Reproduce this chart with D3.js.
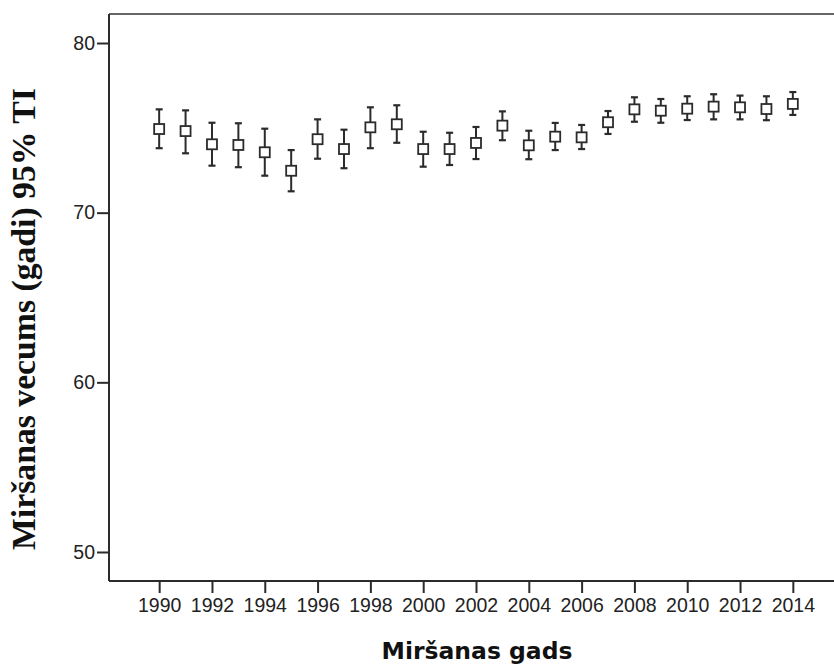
<!DOCTYPE html>
<html>
<head>
<meta charset="utf-8">
<script src="https://cdn.jsdelivr.net/npm/d3@7"></script>
<style>
  html, body { margin: 0; padding: 0; background: #fff; }
  svg { display: block; }
</style>
</head>
<body>
<svg id="chart" width="834" height="666"></svg>
<script>
// Mean age at death by year of death, with 95% confidence intervals
const years = [1990, 1991, 1992, 1993, 1994, 1995, 1996, 1997, 1998, 1999, 2000, 2001,
               2002, 2003, 2004, 2005, 2006, 2007, 2008, 2009, 2010, 2011, 2012, 2013, 2014];
const means = [74.93, 74.81, 74.03, 73.99, 73.56, 72.47, 74.33, 73.75, 75.03, 75.21, 73.75, 73.75,
               74.11, 75.13, 73.97, 74.48, 74.44, 75.33, 76.09, 76.01, 76.13, 76.25, 76.21, 76.11, 76.41];
const lower = [73.80, 73.50, 72.77, 72.68, 72.18, 71.26, 73.18, 72.62, 73.80, 74.12, 72.71, 72.81,
               73.16, 74.27, 73.15, 73.69, 73.75, 74.64, 75.36, 75.30, 75.46, 75.50, 75.50, 75.45, 75.76];
const upper = [76.09, 76.03, 75.30, 75.27, 74.95, 73.69, 75.50, 74.89, 76.21, 76.33, 74.77, 74.71,
               75.05, 75.97, 74.83, 75.29, 75.17, 75.99, 76.80, 76.70, 76.86, 76.98, 76.90, 76.86, 77.11];
const xTicks = [1990, 1992, 1994, 1996, 1998, 2000, 2002, 2004, 2006, 2008, 2010, 2012, 2014];
const yTicks = [50, 60, 70, 80];
const xTitle = "Miršanas gads";
const yTitle = "Miršanas vecums (gadi) 95% TI";

const rows = years.map((yr, i) => ({ year: yr, mean: means[i], lo: lower[i], hi: upper[i] }));

const svg = d3.select("#chart");
const plotL = 109, plotR = 843, plotT = 14, plotB = 581;

const x = d3.scaleLinear().domain([1988.1, 2015.9]).range([plotL, plotR]);
const y = d3.scaleLinear().domain([48.29, 81.71]).range([plotB, plotT]);

const ink = "#2b2b2b";
const tickFont = "'Liberation Sans', Arial, sans-serif";

// frame lines (top and right)
svg.append("line")
  .attr("x1", plotL).attr("x2", plotR).attr("y1", plotT).attr("y2", plotT)
  .attr("stroke", "#333").attr("stroke-width", 1.6);
svg.append("line")
  .attr("x1", plotR).attr("x2", plotR).attr("y1", plotT).attr("y2", plotB)
  .attr("stroke", "#333").attr("stroke-width", 1.6);

// x axis
const xAxis = svg.append("g")
  .attr("transform", `translate(0,${plotB})`)
  .call(d3.axisBottom(x).tickValues(xTicks).tickFormat(d3.format("d"))
        .tickSizeInner(12).tickSizeOuter(0).tickPadding(5));
xAxis.attr("font-size", 19.5).attr("font-family", tickFont);
xAxis.select(".domain").attr("stroke", ink).attr("stroke-width", 2)
  .attr("d", `M${plotL},0H${plotR}`);
xAxis.selectAll(".tick line").attr("stroke", ink).attr("stroke-width", 2);
xAxis.selectAll(".tick text").attr("fill", "#222");

// y axis
const yAxis = svg.append("g")
  .attr("transform", `translate(${plotL},0)`)
  .call(d3.axisLeft(y).tickValues(yTicks).tickFormat(d3.format("d"))
        .tickSizeInner(12).tickSizeOuter(0).tickPadding(2));
yAxis.attr("font-size", 19.5).attr("font-family", tickFont);
yAxis.select(".domain").attr("stroke", ink).attr("stroke-width", 2)
  .attr("d", `M0,${plotT}V${plotB}`);
yAxis.selectAll(".tick line").attr("stroke", ink).attr("stroke-width", 2);
yAxis.selectAll(".tick text").attr("fill", "#222");

// error bars
const capW = 7, box = 10;
const g = svg.append("g");
const pts = g.selectAll("g.pt").data(rows).join("g").attr("class", "pt");
pts.append("line")
  .attr("x1", d => x(d.year)).attr("x2", d => x(d.year))
  .attr("y1", d => y(d.hi)).attr("y2", d => y(d.lo))
  .attr("stroke", ink).attr("stroke-width", 2);
pts.append("line")
  .attr("x1", d => x(d.year) - capW / 2).attr("x2", d => x(d.year) + capW / 2)
  .attr("y1", d => y(d.hi)).attr("y2", d => y(d.hi))
  .attr("stroke", ink).attr("stroke-width", 2.2);
pts.append("line")
  .attr("x1", d => x(d.year) - capW / 2).attr("x2", d => x(d.year) + capW / 2)
  .attr("y1", d => y(d.lo)).attr("y2", d => y(d.lo))
  .attr("stroke", ink).attr("stroke-width", 2.2);
// mean markers: open squares
pts.append("rect")
  .attr("x", d => x(d.year) - box / 2).attr("y", d => y(d.mean) - box / 2)
  .attr("width", box).attr("height", box)
  .attr("fill", "#fff").attr("stroke", ink).attr("stroke-width", 1.8);

// fit a text element to a target width by adjusting its font size
function fitWidth(sel, base, target) {
  sel.attr("font-size", base);
  const w = sel.node().getComputedTextLength();
  sel.attr("font-size", base * target / w);
}

// x title
const xt = svg.append("text")
  .attr("x", 477).attr("y", 659)
  .attr("text-anchor", "middle")
  .attr("font-family", "'DejaVu Sans', Verdana, sans-serif")
  .attr("font-weight", "bold")
  .attr("fill", "#111")
  .text(xTitle);
fitWidth(xt, 24, 191);

// y title
const yt = svg.append("text")
  .attr("transform", "translate(35,319) rotate(-90)")
  .attr("text-anchor", "middle")
  .attr("font-family", "'Liberation Serif', 'Times New Roman', serif")
  .attr("font-weight", "bold")
  .attr("fill", "#111")
  .text(yTitle);
fitWidth(yt, 30, 462);
</script>
</body>
</html>
